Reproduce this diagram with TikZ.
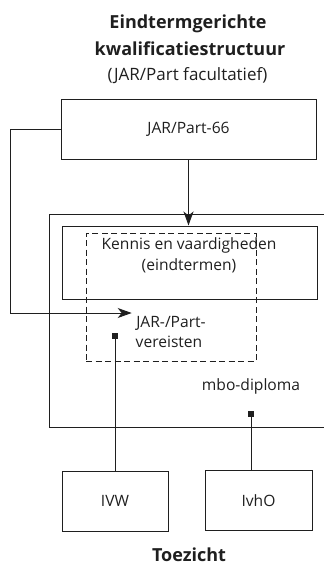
\documentclass[tikz,border=0pt]{standalone}
\usepackage{fontspec}
\setmainfont{Open Sans}
\usetikzlibrary{arrows.meta}
\begin{document}
\begin{tikzpicture}[x=1pt,y=-1pt, line width=1pt, color={black!88},
  box/.style={draw, rectangle, inner sep=0pt, font=\fontsize{15.6}{21}\selectfont},
  lbl/.style={inner sep=0pt, font=\fontsize{15.6}{21}\selectfont},
  ttl/.style={inner sep=0pt, font=\bfseries\fontsize{18}{27}\selectfont},
  sub/.style={inner sep=0pt, font=\fontsize{17}{21}\selectfont},
  arr/.style={-{Stealth[length=14pt,width=10pt,inset=4pt]}},
  dbox/.style={draw, dashed, line width=1pt, dash pattern=on 6pt off 3.5pt, rectangle, inner sep=0pt},
  sq/.style={fill, draw=none, minimum size=6pt, inner sep=0pt, rectangle}
]
\useasboundingbox (0,0) rectangle (324,565);
% titles
\node[ttl, anchor=base] (t1) at (188,28) {Eindtermgerichte};
\node[ttl, anchor=base] (t2) at (190,55) {kwalificatiestructuur};
\node[sub, anchor=base] (t3) at (187.5,80) {(JAR/Part facultatief)};
% boxes
\node[box, minimum width=255pt, minimum height=60pt] (jar) at (188.5,129) {JAR/Part-66};
\draw (324,214.3) -- (49,214.3) -- (49,427.3) -- (324,427.3);
\node[box, minimum width=255pt, minimum height=73pt] (ken) at (189.5,262.5) {};
\node[lbl, anchor=base] (k1) at (189,249) {Kennis en vaardigheden};
\node[lbl, anchor=base] (k2) at (189,270) {(eindtermen)};
\node[dbox, minimum width=170pt, minimum height=128pt] (dash) at (171,297) {};
\node[lbl, anchor=base] (r1) at (171,327) {JAR-/Part-};
\node[lbl, anchor=base] (r2) at (169,347) {vereisten};
\node[lbl, anchor=base] (mbo) at (251,390) {mbo-diploma};
\node[sq] (s1) at (115,336) {};
\node[sq] (s2) at (251,414) {};
\node[box, minimum width=106pt, minimum height=60pt] (ivw) at (115,501) {IVW};
\node[box, minimum width=107pt, minimum height=60pt] (ivho) at (258.5,500.7) {IvhO};
\node[ttl, anchor=base] (toe) at (189,561.5) {Toezicht};
% connectors
\coordinate (rin) at (131.7,313);
\draw[arr] (jar.south) -- (jar.south |- ken.north);
\draw[arr] (jar.west) -- ++(-50.3,0) |- (rin);
\draw (s1.center) -- (ivw.north);
\draw (s2.center) -- (s2.center |- ivho.north);
\end{tikzpicture}
\end{document}
